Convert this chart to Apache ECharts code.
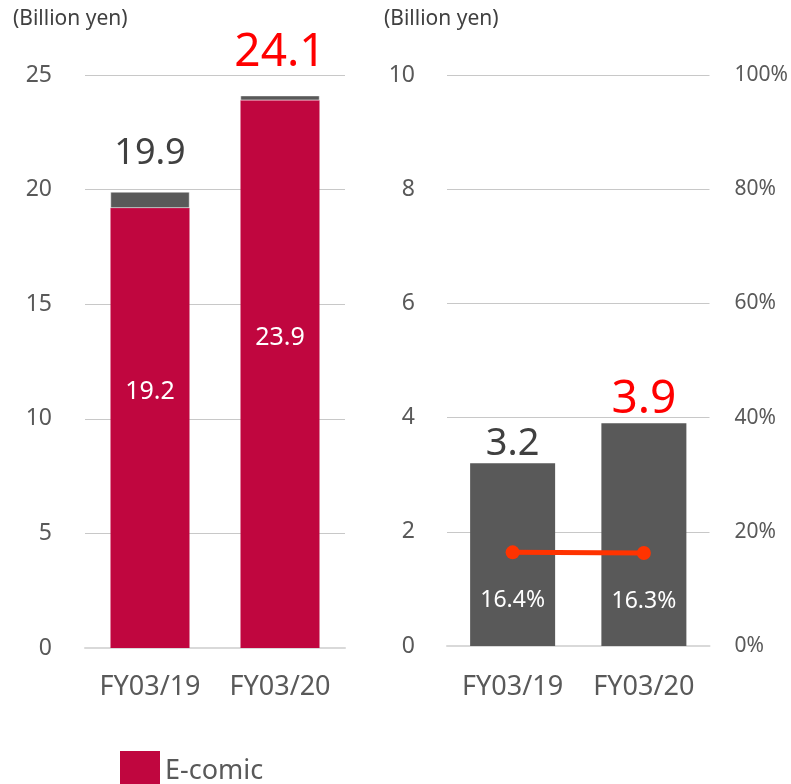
<!DOCTYPE html>
<html>
<head>
<meta charset="utf-8">
<script src="https://cdn.jsdelivr.net/npm/echarts@6/dist/echarts.min.js"></script>
<style>
  html,body{margin:0;padding:0;background:#fff;}
  #chart{width:791px;height:784px;}
</style>
</head>
<body>
<div id="chart"></div>
<script>
// data
const categories = ["FY03/19", "FY03/20"];
const ecomicSales = [19.2, 23.9];
const otherSales = [0.7, 0.2];
const totalSales = [19.9, 24.1];
const profit = [3.2, 3.9];
const margin = [16.4, 16.3];
const yLeftTicks = [0, 25, 5];
const yMidTicks = [0, 10, 2];
const yPctTicks = [0, 100, 20];

const crimson = "#C0063F";
const darkGray = "#595959";
const txt = "#595959";
const font = "Noto Sans";

// last value gets the highlighted style
function topLabel(i, big, small) {
  return i === 1
    ? {color: "#FF0000", fontSize: big}
    : {color: "#404040", fontSize: small};
}

let myChart = echarts.init(document.getElementById("chart"));
myChart.setOption({
  animation: false,
  textStyle: {fontFamily: font},
  title: [
    {text: "(Billion yen)", left: 8, top: 4, textStyle: {fontSize: 21, fontWeight: "normal", color: "#404040", fontFamily: font}},
    {text: "(Billion yen)", left: 379, top: 4, textStyle: {fontSize: 21, fontWeight: "normal", color: "#404040", fontFamily: font}}
  ],
  legend: {
    data: ["E-comic"],
    icon: "rect",
    left: 115,
    top: 746,
    itemWidth: 40,
    itemHeight: 40,
    itemGap: 10,
    textStyle: {fontSize: 27, color: txt, fontFamily: font}
  },
  grid: [
    {left: 85, top: 75, width: 260, height: 573},
    {left: 447, top: 75, width: 263, height: 571}
  ],
  xAxis: [
    {
      type: "category", gridIndex: 0, data: categories,
      axisTick: {show: false},
      axisLine: {lineStyle: {color: "#D9D9D9", width: 2}},
      axisLabel: {interval: 0, fontSize: 27, color: txt, margin: 26, fontFamily: font}
    },
    {
      type: "category", gridIndex: 1, data: categories,
      axisTick: {show: false},
      axisLine: {lineStyle: {color: "#D9D9D9", width: 2}},
      axisLabel: {interval: 0, fontSize: 27, color: txt, margin: 28, fontFamily: font}
    }
  ],
  yAxis: [
    {
      type: "value", gridIndex: 0, min: yLeftTicks[0], max: yLeftTicks[1], interval: yLeftTicks[2],
      axisLine: {show: false}, axisTick: {show: false},
      splitLine: {lineStyle: {color: "#C8C8C8"}},
      axisLabel: {fontSize: 23, color: txt, margin: 33, fontFamily: font}
    },
    {
      type: "value", gridIndex: 1, min: yMidTicks[0], max: yMidTicks[1], interval: yMidTicks[2],
      axisLine: {show: false}, axisTick: {show: false},
      splitLine: {lineStyle: {color: "#C8C8C8"}},
      axisLabel: {fontSize: 23, color: txt, margin: 32, fontFamily: font}
    },
    {
      type: "value", gridIndex: 1, position: "right", min: yPctTicks[0], max: yPctTicks[1], interval: yPctTicks[2],
      axisLine: {show: false}, axisTick: {show: false},
      splitLine: {show: false},
      axisLabel: {fontSize: 21, color: txt, margin: 25, formatter: "{value}%", fontFamily: font}
    }
  ],
  series: [
    {
      name: "E-comic", type: "bar", stack: "sales", xAxisIndex: 0, yAxisIndex: 0,
      barWidth: 79,
      data: ecomicSales,
      itemStyle: {color: crimson},
      label: {
        show: true, position: "inside", offset: [0, -36],
        color: "#fff", fontSize: 25, fontFamily: font,
        formatter: p => p.value.toFixed(1)
      }
    },
    {
      name: "Other", type: "bar", stack: "sales", xAxisIndex: 0, yAxisIndex: 0,
      barWidth: 79,
      data: otherSales.map((v, i) => ({
        value: v,
        label: Object.assign({show: true, position: "top", distance: 20, fontFamily: font,
          formatter: () => totalSales[i].toFixed(1)}, topLabel(i, 46, 36))
      })),
      itemStyle: {color: darkGray, borderColor: "#fff", borderWidth: 0.5}
    },
    {
      name: "Operating income", type: "bar", xAxisIndex: 1, yAxisIndex: 1,
      barWidth: 85,
      data: profit.map((v, i) => ({
        value: v,
        label: Object.assign({show: true, position: "top", distance: 0, fontFamily: font,
          formatter: p => p.value.toFixed(1)}, topLabel(i, 46, 38))
      })),
      itemStyle: {color: darkGray}
    },
    {
      name: "Margin", type: "line", xAxisIndex: 1, yAxisIndex: 2,
      data: margin,
      symbol: "circle", symbolSize: 14,
      lineStyle: {color: "#FF3300", width: 5},
      itemStyle: {color: "#FF3300"},
      label: {
        show: true, position: "bottom", distance: 30,
        color: "#fff", fontSize: 23, fontFamily: font,
        formatter: p => p.value.toFixed(1) + "%"
      },
      z: 5
    }
  ]
});
</script>
</body>
</html>
